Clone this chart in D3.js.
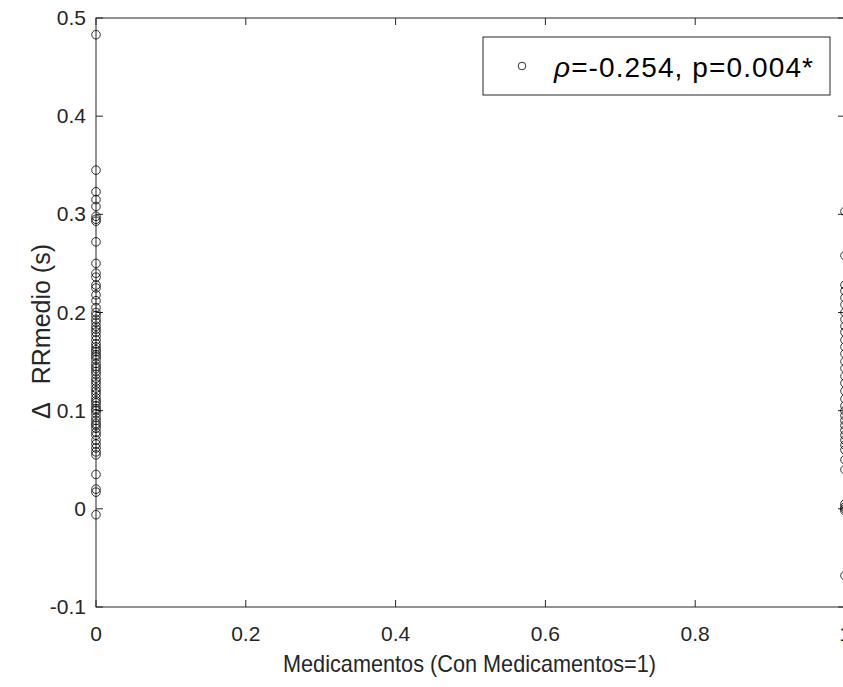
<!DOCTYPE html>
<html>
  <head>
    <meta charset="utf-8">
    <script src="https://cdn.jsdelivr.net/npm/d3@7"></script>
    <style>
      body { margin: 0; background: #fff; }
      text { font-family: "Liberation Sans", Arial, sans-serif; fill: #262626; }
    </style>
  </head>
  <body>
    <svg width="843" height="687" id="svg1"></svg>
    <script>
    // group 0 = sin medicamentos, group 1 = con medicamentos
    var sinMed = [0.483, 0.345, 0.323, 0.315, 0.308, 0.298, 0.295, 0.293, 0.272, 0.250,
        0.240, 0.236, 0.228, 0.225, 0.218, 0.212, 0.205, 0.200, 0.197, 0.193,
        0.190, 0.186, 0.183, 0.180, 0.176, 0.172, 0.168, 0.165, 0.162, 0.160,
        0.157, 0.155, 0.152, 0.148, 0.145, 0.143, 0.140, 0.137, 0.133, 0.130,
        0.127, 0.123, 0.120, 0.117, 0.113, 0.110, 0.108, 0.105, 0.102, 0.100,
        0.097, 0.093, 0.090, 0.087, 0.085, 0.082, 0.078, 0.075, 0.070, 0.066,
        0.062, 0.058, 0.055, 0.035, 0.020, 0.017, -0.006];
    var conMed = [0.303, 0.258, 0.228, 0.222, 0.215, 0.208, 0.200, 0.193, 0.186, 0.180,
        0.172, 0.165, 0.158, 0.150, 0.143, 0.135, 0.128, 0.120, 0.112, 0.105,
        0.100, 0.095, 0.090, 0.085, 0.080, 0.075, 0.070, 0.065, 0.060, 0.050,
        0.040, 0.005, 0.002, 0.000, -0.002, -0.068];
    var xTicks = [0, 0.2, 0.4, 0.6, 0.8, 1];
    var yTicks = [-0.1, 0, 0.1, 0.2, 0.3, 0.4, 0.5];

    var points = sinMed.map(function(v) { return {x: 0, y: v}; })
        .concat(conMed.map(function(v) { return {x: 1, y: v}; }));

    var svg = d3.select("#svg1");
    var pLeft = 96, pRight = 845, pTop = 18, pBottom = 607;
    var axisCol = "#262626", tickLen = 7;

    var xScale = d3.scaleLinear().domain([0, 1]).range([pLeft, pRight]);
    var yScale = d3.scaleLinear().domain([-0.1, 0.5]).range([pBottom, pTop]);
    var fmt = function(d) { return String(+d.toFixed(1)); };

    // box
    svg.append("rect")
       .attr("x", pLeft).attr("y", pTop)
       .attr("width", pRight - pLeft).attr("height", pBottom - pTop)
       .attr("fill", "none").attr("stroke", axisCol).attr("stroke-width", 1);

    // bottom / top ticks
    svg.selectAll(".xt").data(xTicks).enter().append("line")
       .attr("x1", function(d) { return xScale(d); }).attr("x2", function(d) { return xScale(d); })
       .attr("y1", pBottom).attr("y2", pBottom - tickLen)
       .attr("stroke", axisCol);
    svg.selectAll(".xtt").data(xTicks).enter().append("line")
       .attr("x1", function(d) { return xScale(d); }).attr("x2", function(d) { return xScale(d); })
       .attr("y1", pTop).attr("y2", pTop + tickLen)
       .attr("stroke", axisCol);
    svg.selectAll(".xl").data(xTicks).enter().append("text")
       .attr("x", function(d) { return xScale(d); })
       .attr("y", pBottom + 34)
       .attr("text-anchor", "middle")
       .attr("font-size", "21px")
       .text(fmt);

    // left / right ticks
    svg.selectAll(".yt").data(yTicks).enter().append("line")
       .attr("x1", pLeft).attr("x2", pLeft + tickLen)
       .attr("y1", function(d) { return yScale(d); }).attr("y2", function(d) { return yScale(d); })
       .attr("stroke", axisCol);
    svg.selectAll(".ytr").data(yTicks).enter().append("line")
       .attr("x1", pRight).attr("x2", pRight - tickLen)
       .attr("y1", function(d) { return yScale(d); }).attr("y2", function(d) { return yScale(d); })
       .attr("stroke", axisCol);
    svg.selectAll(".yl").data(yTicks).enter().append("text")
       .attr("x", pLeft - 10)
       .attr("y", function(d) { return yScale(d) + 7; })
       .attr("text-anchor", "end")
       .attr("font-size", "21px")
       .text(fmt);

    // points
    svg.selectAll(".pt").data(points).enter().append("circle")
       .attr("cx", function(d) { return xScale(d.x); })
       .attr("cy", function(d) { return yScale(d.y); })
       .attr("r", 4.3)
       .attr("fill", "none")
       .attr("stroke", "#000")
       .attr("stroke-width", 0.8);

    // axis labels
    svg.append("text")
       .attr("x", 283)
       .attr("y", 672)
       .attr("font-size", "24px")
       .attr("textLength", 373)
       .attr("lengthAdjust", "spacingAndGlyphs")
       .text("Medicamentos (Con Medicamentos=1)");
    var yl = svg.append("text")
       .attr("transform", "translate(50,419) rotate(-90)")
       .attr("font-size", "25px");
    yl.append("tspan").text("\u0394");
    yl.append("tspan").attr("dx", 18).text("RRmedio (s)");

    // legend
    var lg = svg.append("g");
    lg.append("rect")
      .attr("x", 483).attr("y", 37).attr("width", 347).attr("height", 58)
      .attr("fill", "#fff").attr("stroke", axisCol).attr("stroke-width", 1);
    lg.append("circle")
      .attr("cx", 522).attr("cy", 66).attr("r", 3.8)
      .attr("fill", "none").attr("stroke", "#000").attr("stroke-width", 0.8);
    var lt = lg.append("text")
      .attr("x", 554).attr("y", 77)
      .attr("font-size", "28px")
      .attr("textLength", 259)
      .style("fill", "#000");
    lt.append("tspan").attr("font-style", "italic").text("\u03C1");
    lt.append("tspan").text("=-0.254, p=0.004*");
    </script>
  </body>
</html>
